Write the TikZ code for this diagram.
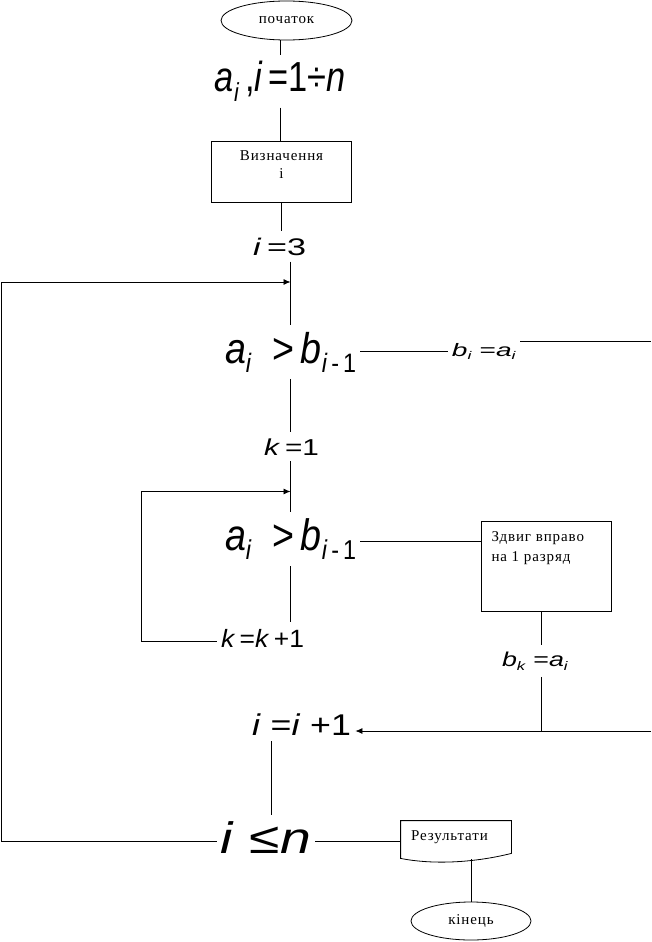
\documentclass[tikz,border=0pt]{standalone}
\usepackage{fontspec}
\setmainfont[LetterSpace=6]{Liberation Serif}
\newfontfamily\formfont{Liberation Sans}
\usepackage{graphicx}
\usepackage{tikz}
\usetikzlibrary{arrows.meta}
\usetikzlibrary{shapes.geometric}
\tikzset{>={Latex[length=7pt,width=6pt]}}
\tikzset{formula/.style={font=\formfont\fontsize{#1}{#1}\selectfont,inner xsep=4pt,inner ysep=6pt,anchor=base}}
\tikzset{term/.style={draw,ellipse,inner sep=0}}
\newcommand\lo[1]{\raisebox{-0.22em}{\scalebox{0.62}{#1}}}
\newcommand\fitto[2]{\resizebox{#1pt}{\height}{#2}}

\begin{document}
\begin{tikzpicture}[x=1pt,y=-1pt,line width=0.8pt,font=\fontsize{15}{18}\selectfont]
	\useasboundingbox (0,0) rectangle (651,942);
	\node[term,minimum width=131,minimum height=39] (pochatok) at (286.5,20.5) {початок};
	\node[formula=42] (vhid) at (280.5,92) {\fitto{131}{\textit{a}\lo{\textit{i}}\,,\textit{i}\,=1÷\textit{n}}};
	\node[draw,inner sep=0] (vyzn) at (281.5,171.5) {\parbox[c][61pt][t]{140pt}{\centering\vspace*{10pt}Визначення\\і}};
	\node[formula=24] (init) at (279.5,255) {\fitto{53}{\textit{i}\,=3}};
	\node[formula=43] (umova1) at (290.5,363) {\fitto{131}{\textit{a}\lo{\textit{i}}\; >\,\textit{b}\lo{\textit{i}\,-\,1}}};
	\node[formula=18] (bi) at (484,356) {\fitto{64}{\textit{b}\lo{\textit{i}}\;=\textit{a}\lo{\textit{i}}}};
	\node[formula=23] (kone) at (291.5,455) {\fitto{55}{\textit{k}\,=1}};
	\node[formula=44] (umova2) at (290.5,550) {\fitto{131}{\textit{a}\lo{\textit{i}}\; >\,\textit{b}\lo{\textit{i}\,-\,1}}};
	\node[formula=25] (kk1) at (262.5,647) {\fitto{83}{\textit{k}\,=\textit{k}\,+1}};
	\node[draw,inner sep=0] (zsuv) at (546.5,566.5) {\parbox[c][90pt][t]{130pt}{\fontsize{15}{20}\selectfont\vspace*{10pt}\leftskip=10pt\relax Здвиг вправо\\на 1 разряд}};
	\node[formula=20] (bk) at (535,666) {\fitto{66}{\textit{b}\lo{\textit{k}}\;=\textit{a}\lo{\textit{i}}}};
	\node[formula=30] (iplus) at (301.5,735) {\fitto{99}{\textit{i}\;=\textit{i}\;+1}};
	\node[formula=44] (ilen) at (266,853) {\fitto{90}{\textit{i}\;≤\textit{n}}};
	\node[minimum width=110,minimum height=32,text width=90,align=left,inner sep=0] (rez) at (456,837) {Результати};
	\node[term,minimum width=120,minimum height=38] (kinets) at (471,921) {кінець};
	\coordinate (zlivo) at (1.5,282);
	\coordinate (zlivo2) at (141.5,491.5);
	\coordinate (pravo1) at (651,341);
	\coordinate (pravo2) at (651,731);
	\coordinate (vuzol) at (541.5,731);
	\coordinate (u1) at ([yshift=11.5pt]umova1.base east);
	\coordinate (u2) at ([yshift=8.5pt]umova2.base east);
	\coordinate (k1) at ([yshift=6pt]kk1.base west);
	\coordinate (n1) at ([yshift=11.5pt]ilen.base west);
	\coordinate (n2) at ([yshift=11.5pt]ilen.base east);
	\coordinate (rezniz) at ([yshift=-6pt]rez.south);
	\draw (rez.north west) -- (rez.north east) -- (rez.south east) .. controls +(-40,10) and +(30,6) .. ([yshift=-5pt]rez.south west) -- cycle;
	\draw (pochatok.south -| vhid) -- (vhid.north);
	\draw (vhid.south) -- (vhid.south |- vyzn.north);
	\draw (vyzn.south) -- (vyzn.south |- init.north);
	\draw (init.south -| umova1) -- (umova1.north);
	\draw[->] (n1) -| (zlivo) -- (zlivo -| umova1);
	\draw (u1) -- (u1 -| bi.west);
	\draw (bi.east |- pravo1) -- (pravo1);
	\draw (umova1.south) -- (umova1.south |- kone.north);
	\draw (kone.south -| umova2) -- (umova2.north);
	\draw[->] (k1) -| (zlivo2) -- (zlivo2 -| umova2);
	\draw (umova2.south) -- (umova2.south |- kk1.north);
	\draw (u2) -- (u2 -| zsuv.west);
	\draw (zsuv.south -| vuzol) -- (bk.north -| vuzol);
	\draw (bk.south -| vuzol) -- (vuzol);
	\draw[->] (pravo2) -- (pravo2 -| iplus.east);
	\draw ([xshift=-30pt]iplus.south) -- ([xshift=-30pt]iplus.south |- ilen.north);
	\draw (n2) -- (n2 -| rez.west);
	\draw (rezniz -| kinets) -- (kinets);
\end{tikzpicture}
\end{document}
